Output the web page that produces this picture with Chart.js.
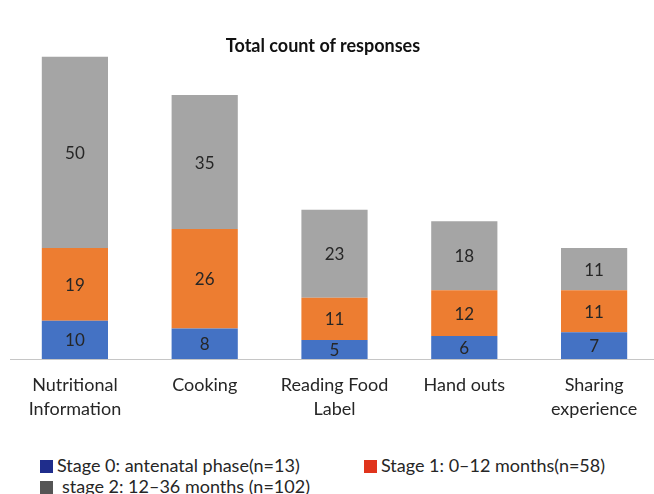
<!DOCTYPE html>
<html>
<head>
<meta charset="utf-8">
<script src="https://cdn.jsdelivr.net/npm/chart.js@4.4.1/dist/chart.umd.min.js"></script>
<style>
  body { margin: 0; background: #fff; }
  #wrap { position: relative; width: 654px; height: 494px; overflow: hidden; background: #fff; font-family: Lato, sans-serif; }
  #chart { position: absolute; left: 0; top: 0; }
  #title { position: absolute; left: 0; width: 646px; top: 34px; text-align: center; font-weight: bold; font-size: 18px; color: #111; }
  .leg { position: absolute; font-size: 18px; color: #262626; white-space: nowrap; line-height: 20px; }
  .leg span { display: inline-block; width: 13px; height: 13px; margin-right: 4px; vertical-align: -1px; }
</style>
</head>
<body>
<div id="wrap">
  <canvas id="chart" width="670" height="438"></canvas>
  <div id="title">Total count of responses</div>
  <div class="leg" style="left:40px;top:455px"><span style="background:#1f2d8c"></span>Stage 0: antenatal phase(n=13)</div>
  <div class="leg" style="left:364px;top:455px"><span style="background:#e0341c"></span>Stage 1: 0–12 months(n=58)</div>
  <div class="leg" style="left:40px;top:476px"><span style="background:#555555;margin-right:9px"></span>stage 2: 12–36 months (n=102)</div>
</div>
<script>
const categories = [['Nutritional', 'Information'], 'Cooking', ['Reading Food', 'Label'], 'Hand outs', ['Sharing', 'experience']];
const stage0 = [10, 8, 5, 6, 7];
const stage1 = [19, 26, 11, 12, 11];
const stage2 = [50, 35, 23, 18, 11];

// draws the value in the middle of each bar segment
const valueLabels = {
    id: 'valueLabels',
    afterDatasetsDraw(chart) {
        const ctx = chart.ctx;
        ctx.save();
        ctx.font = '17px Lato';
        ctx.fillStyle = '#262626';
        ctx.textAlign = 'center';
        ctx.textBaseline = 'middle';
        chart.data.datasets.forEach((ds, i) => {
            chart.getDatasetMeta(i).data.forEach((bar, j) => {
                ctx.fillText(ds.data[j], bar.x, (bar.y + bar.base) / 2 + 1);
            });
        });
        ctx.restore();
    }
};

new Chart(document.getElementById('chart'), {
    type: 'bar',
    data: {
        labels: categories,
        datasets: [
            { label: 'Stage 0: antenatal phase(n=13)', data: stage0, backgroundColor: '#4472c4' },
            { label: 'Stage 1: 0–12 months(n=58)', data: stage1, backgroundColor: '#ed7d31' },
            { label: 'stage 2: 12–36 months (n=102)', data: stage2, backgroundColor: '#a5a5a5' }
        ]
    },
    options: {
        responsive: false,
        animation: false,
        layout: { padding: { top: 53, left: 10, right: 11, bottom: 11 } },
        datasets: { bar: { categoryPercentage: 1, barPercentage: 0.51 } },
        plugins: { legend: { display: false }, tooltip: { enabled: false }, title: { display: false } },
        scales: {
            x: {
                stacked: true,
                grid: { display: false },
                border: { display: true, color: '#c6c6c6', width: 1 },
                ticks: { color: '#262626', font: { family: 'Lato', size: 18, lineHeight: 1.333 }, padding: 6, maxRotation: 0 }
            },
            y: { stacked: true, display: false, min: 0, max: 80 }
        }
    },
    plugins: [valueLabels]
});
</script>
</body>
</html>
